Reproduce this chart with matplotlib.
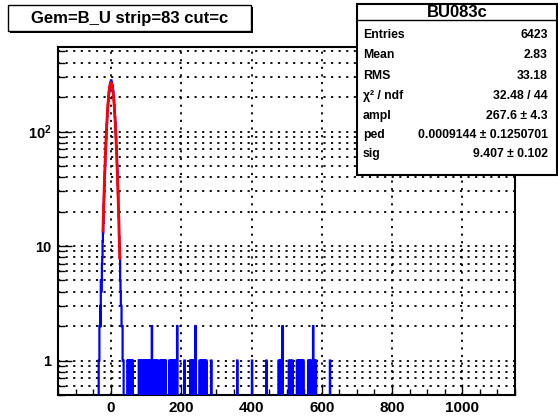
import numpy as np
import matplotlib
matplotlib.use("Agg")
import matplotlib.pyplot as plt
from matplotlib.patches import Rectangle
from matplotlib.ticker import FixedLocator, FixedFormatter
from matplotlib.font_manager import FontProperties, findfont

plt.rcParams['font.family'] = ['Liberation Sans', 'DejaVu Sans']
plt.rcParams['font.weight'] = 'bold'
plt.rcParams['mathtext.fontset'] = 'custom'
plt.rcParams['mathtext.rm'] = 'Liberation Sans:bold'
plt.rcParams['mathtext.it'] = 'Liberation Sans:bold'
plt.rcParams['mathtext.bf'] = 'Liberation Sans:bold'

bold_file = findfont(FontProperties(family='Liberation Sans', weight='bold'))

def bf(size):
    return FontProperties(fname=bold_file, size=size)

# ---------------- data ----------------
title = "Gem=B_U strip=83 cut=c"
hist_name = "BU083c"
hist_lo, hist_hi, bin_width = -150, 1150, 1

# peak region: bin lower edges and counts
peak_x = list(range(-35, 36))
peak_counts = [1, 1, 2, 2, 3, 2, 5, 4, 5, 7, 8, 11, 13, 16, 23, 27, 34, 44, 51, 64,
               76, 87, 104, 117, 136, 151, 171, 186, 204, 218, 233, 243, 255, 263, 270,
               280, 268, 262, 253, 246, 230, 220, 202, 188, 169, 154, 134, 119, 101, 89,
               74, 64, 51, 44, 34, 29, 21, 18, 12, 10, 8, 5, 4, 3, 3, 2, 2, 2, 1, 1, 1]

# isolated entries outside the peak
outlier_x = [47, 49, 52, 55, 58, 61,
             79, 81, 84, 86, 88, 91, 93, 95, 97, 100, 102, 104, 107, 109, 111, 113, 116,
             118, 120, 123, 125, 127, 130, 133,
             140, 143, 146, 149, 152, 155,
             166, 170, 174, 178, 181, 183, 188, 209,
             225, 229, 232, 235, 240,
             252, 256, 259, 263, 267, 271, 285, 359, 401, 442,
             477, 481, 485, 488, 506, 511, 516,
             529, 533, 537, 540, 544, 547,
             561, 565, 570, 575, 579, 583, 623]
outlier_counts = [1, 1, 1, 1, 1, 1,
                  1, 1, 1, 1, 1, 1, 1, 1, 1, 1, 1, 1, 1, 1, 1, 1, 2,
                  1, 1, 1, 1, 1, 1, 1,
                  1, 1, 1, 1, 1, 1,
                  1, 1, 1, 1, 1, 1, 2, 1,
                  1, 1, 1, 1, 2,
                  1, 1, 1, 1, 1, 1, 1, 1, 1, 1,
                  1, 1, 1, 2, 1, 1, 1,
                  1, 1, 1, 1, 1, 1,
                  1, 1, 1, 2, 1, 1, 1]

# fit parameters (gaussian) and fit range
fit_ampl, fit_ped, fit_sig = 267.6, 0.0009144, 9.407
fit_lo, fit_hi = -23, 25

stat_labels = ["Entries", "Mean", "RMS", "\u03c7\u00b2 / ndf", "ampl", "ped", "sig"]
stat_values = ["6423", "2.83", "33.18", "32.48 / 44", "267.6 \u00b1 4.3",
               "0.0009144 \u00b1 0.1250701", "9.407 \u00b1 0.102"]

x_ticks = [0, 200, 400, 600, 800, 1000]
x_tick_labels = ["0", "200", "400", "600", "800", "1000"]
y_major = [1, 10, 100]
y_major_labels = ["1", "10", "$10^{2}$"]

# ---------------- figure ----------------
W, H = 558, 417
fig = plt.figure(figsize=(W / 100, H / 100), dpi=100)

def fx(x):
    return x / W

def fy(y):
    return 1 - y / H

ax_l, ax_r, ax_t, ax_b = 58.3, 515, 47, 395
ax = fig.add_axes([fx(ax_l), fy(ax_b), (ax_r - ax_l) / W, (ax_b - ax_t) / H])

edges = np.arange(hist_lo, hist_hi + bin_width, bin_width)
counts = np.zeros(len(edges) - 1)
for x, c in zip(peak_x, peak_counts):
    counts[int((x - hist_lo) // bin_width)] += c
for x, c in zip(outlier_x, outlier_counts):
    counts[int((x - hist_lo) // bin_width)] += c
plot_counts = np.where(counts > 0, counts, 1e-3)

ax.set_yscale('log')
ax.set_xlim(hist_lo, hist_hi)
ax.set_ylim(0.5, 547)

ax.stairs(plot_counts, edges, color='#0000ff', lw=1.6, baseline=None, zorder=3)

xf = np.linspace(fit_lo, fit_hi, 300)
yf = fit_ampl * np.exp(-0.5 * ((xf - fit_ped) / fit_sig) ** 2)
ax.plot(xf, yf, color='#ff0000', lw=2.0, zorder=4)

# ticks
ax.set_xticks(x_ticks)
ax.set_xticklabels(x_tick_labels, fontproperties=bf(11))
ax.xaxis.set_minor_locator(FixedLocator(np.arange(-150, 1151, 50)))
ax.set_yticks(y_major)
ax.set_yticklabels(y_major_labels, fontproperties=bf(10.5))
minors = [m * d for d in (1, 10, 100) for m in range(2, 10)] + [0.5, 0.6, 0.7, 0.8, 0.9]
ax.yaxis.set_minor_locator(FixedLocator(minors))
ax.yaxis.set_minor_formatter(FixedFormatter([""] * len(minors)))

ax.tick_params(axis='both', which='both', direction='in', width=1.0, colors='black')
ax.tick_params(axis='x', which='major', length=8, pad=4)
ax.tick_params(axis='x', which='minor', length=4)
ax.tick_params(axis='y', which='major', length=10, pad=5)
ax.tick_params(axis='y', which='minor', length=5)

grid_style = dict(color='black', linestyle=(0, (1.2, 3.0)), linewidth=1.3)
ax.grid(True, axis='x', which='major', **grid_style)
ax.grid(True, axis='y', which='both', **grid_style)
ax.set_axisbelow(True)
for s in ax.spines.values():
    s.set_linewidth(1.5)

# ---------------- title box ----------------
tb_l, tb_t, tb_r, tb_b = 8, 5, 251, 31
fig.patches.append(Rectangle((fx(tb_l + 2), fy(tb_b + 2)), (tb_r - tb_l) / W, (tb_b - tb_t) / H,
                             transform=fig.transFigure, facecolor='black', edgecolor='none', zorder=5))
fig.patches.append(Rectangle((fx(tb_l), fy(tb_b)), (tb_r - tb_l) / W, (tb_b - tb_t) / H,
                             transform=fig.transFigure, facecolor='white', edgecolor='black',
                             lw=1.0, zorder=6))
fig.text(fx((tb_l + tb_r) / 2), fy((tb_t + tb_b) / 2), title, ha='center', va='center',
         fontproperties=bf(12), zorder=7)

# ---------------- stats box ----------------
sb_l, sb_t, sb_r, sb_b = 357, 4, 557, 175
fig.patches.append(Rectangle((fx(sb_l), fy(sb_b)), (sb_r - sb_l) / W, (sb_b - sb_t) / H,
                             transform=fig.transFigure, facecolor='white', edgecolor='black',
                             lw=1.5, zorder=6))
sep_y = 20
fig.add_artist(plt.Line2D([fx(sb_l), fx(sb_r)], [fy(sep_y), fy(sep_y)], color='black',
                          lw=1.0, transform=fig.transFigure, zorder=7))
fig.text(fx((sb_l + sb_r) / 2), fy(12.5), hist_name, ha='center', va='center',
         fontproperties=bf(12), zorder=8)
row_y = [35, 55, 76, 96, 116, 135, 154]
for yy, lab, val in zip(row_y, stat_labels, stat_values):
    fig.text(fx(363), fy(yy), lab, ha='left', va='center', fontproperties=bf(8.8), zorder=8)
    fig.text(fx(548), fy(yy), val, ha='right', va='center', fontproperties=bf(8.8), zorder=8)

fig.savefig("out.png", dpi=100)
